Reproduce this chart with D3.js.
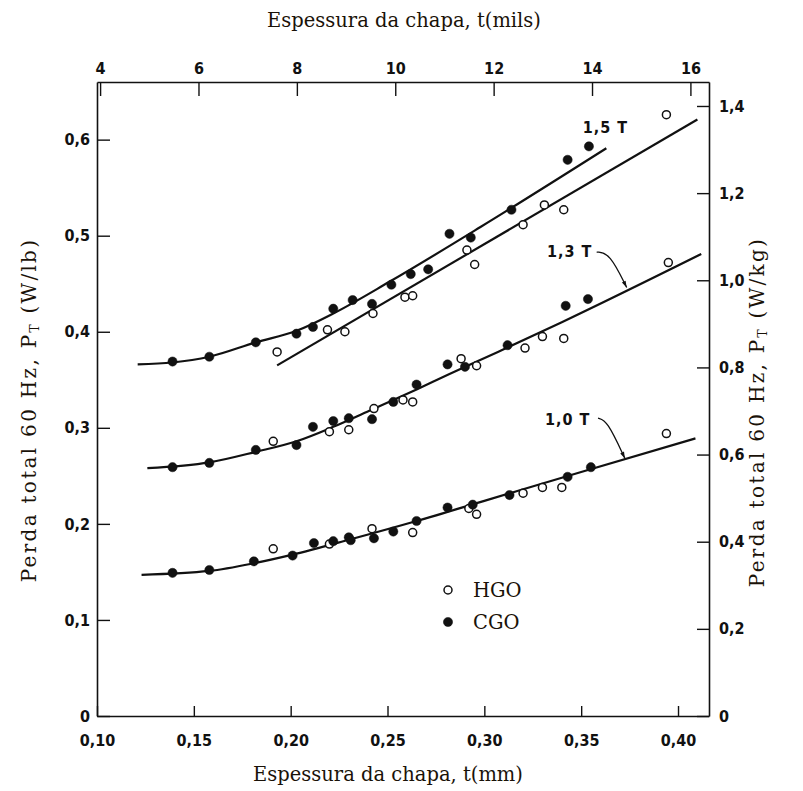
<!DOCTYPE html>
<html>
<head>
<meta charset="utf-8">
<script src="https://cdn.jsdelivr.net/npm/d3@7"></script>
<style>
  body { margin: 0; background: #fff; }
  .tick text { font-family: "Liberation Sans Narrow", "DejaVu Sans Condensed", sans-serif; font-weight: bold; font-size: 16px; fill: #111; }
  .title { font-family: "DejaVu Serif", serif; font-size: 19.5px; fill: #1a1208; }
  .vtitle { font-family: "DejaVu Serif", serif; font-size: 20px; letter-spacing: 2.3px; fill: #1a1208; }
</style>
</head>
<body>
<svg id="chart" width="803" height="791"></svg>
<script>
// --- data (t in mm, P in W/lb) ---
const xTicksMm = [0.10, 0.15, 0.20, 0.25, 0.30, 0.35, 0.40];
const xTicksMils = [4, 6, 8, 10, 12, 14, 16];
const yTicksLb = [0, 0.1, 0.2, 0.3, 0.4, 0.5, 0.6];
const yTicksKg = [0, 0.2, 0.4, 0.6, 0.8, 1.0, 1.2, 1.4];

const cgo15 = [[0.139,0.369],[0.158,0.374],[0.182,0.389],[0.203,0.398],[0.2115,0.405],[0.222,0.424],[0.232,0.433],[0.242,0.429],[0.252,0.449],[0.262,0.460],[0.271,0.465],[0.282,0.502],[0.293,0.498],[0.314,0.527],[0.343,0.579],[0.354,0.593]];
const hgo15 = [[0.193,0.379],[0.219,0.402],[0.228,0.400],[0.2425,0.419],[0.259,0.436],[0.263,0.4375],[0.291,0.485],[0.295,0.470],[0.320,0.5115],[0.331,0.532],[0.341,0.527],[0.394,0.626]];
const cgo13 = [[0.139,0.259],[0.158,0.2635],[0.182,0.277],[0.203,0.282],[0.2115,0.301],[0.222,0.307],[0.230,0.310],[0.242,0.309],[0.253,0.327],[0.265,0.345],[0.281,0.366],[0.290,0.3635],[0.312,0.386],[0.342,0.427],[0.3535,0.434]];
const hgo13 = [[0.191,0.286],[0.220,0.296],[0.230,0.298],[0.243,0.320],[0.258,0.329],[0.263,0.327],[0.288,0.372],[0.296,0.3646],[0.321,0.383],[0.330,0.395],[0.341,0.393],[0.395,0.472]];
const cgo10 = [[0.139,0.149],[0.158,0.152],[0.181,0.161],[0.201,0.167],[0.212,0.180],[0.222,0.182],[0.230,0.186],[0.231,0.183],[0.243,0.185],[0.253,0.192],[0.265,0.203],[0.281,0.217],[0.294,0.220],[0.313,0.230],[0.343,0.249],[0.355,0.259]];
const hgo10 = [[0.191,0.174],[0.220,0.179],[0.242,0.195],[0.263,0.191],[0.292,0.216],[0.296,0.210],[0.320,0.232],[0.330,0.238],[0.340,0.238],[0.394,0.294]];

// fitted curves
const fit15c = [[0.121,0.366],[0.139,0.368],[0.158,0.374],[0.182,0.389],[0.203,0.401],[0.222,0.419],[0.251,0.452],[0.298,0.509],[0.363,0.591]];
const fit15h = [[0.193,0.365],[0.410,0.621]];
const fit13 = [[0.126,0.258],[0.158,0.264],[0.182,0.275],[0.203,0.286],[0.222,0.301],[0.242,0.319],[0.265,0.340],[0.282,0.356],[0.307,0.379],[0.340,0.410],[0.412,0.481]];
const fit10 = [[0.123,0.147],[0.158,0.151],[0.181,0.159],[0.201,0.168],[0.231,0.184],[0.265,0.203],[0.300,0.224],[0.350,0.254],[0.409,0.289]];

// curve labels with leaders
const curveLabels = [
  { text: "1,5 T", at: [0.3625, 0.607], leader: null },
  { text: "1,3 T", at: [0.344, 0.478], leader: [[0.358,0.483],[0.3647,0.482],[0.3735,0.446]] },
  { text: "1,0 T", at: [0.343, 0.303], leader: [[0.3587,0.310],[0.3633,0.308],[0.3726,0.268]] }
];
const legendItems = [{ name: "HGO", open: true }, { name: "CGO", open: false }];

const svg = d3.select("#chart");
const L = 97, R = 709, T = 82, B = 716;
const x = d3.scaleLinear().domain([0.10, 0.416]).range([L, R]);
const xMils = d3.scaleLinear().domain([0.10 / 0.0254, 0.416 / 0.0254]).range([L, R]);
const y = d3.scaleLinear().domain([0, 0.66]).range([B, T]);
const yKg = d3.scaleLinear().domain([0, 0.66 * 2.2046]).range([B, T]);

const comma = f => d => d === 0 ? "0" : d3.format(f)(d).replace(".", ",");

function styleAxis(g) {
  g.select(".domain").attr("stroke", "#111").attr("stroke-width", 1.6);
  g.selectAll(".tick line").attr("stroke", "#111").attr("stroke-width", 1.4);
}

svg.append("g").attr("transform", `translate(0,${B})`)
  .call(d3.axisBottom(x).tickValues(xTicksMm).tickSize(-10).tickSizeOuter(0).tickPadding(19).tickFormat(comma(".2f")))
  .call(styleAxis);
svg.append("g").attr("transform", `translate(0,${T})`)
  .call(d3.axisTop(xMils).tickValues(xTicksMils).tickSize(-14).tickSizeOuter(0).tickPadding(8).tickFormat(d3.format("d")))
  .call(styleAxis);
svg.append("g").attr("transform", `translate(${L},0)`)
  .call(d3.axisLeft(y).tickValues(yTicksLb).tickSize(-13).tickSizeOuter(0).tickPadding(7).tickFormat(comma(".1f")))
  .call(styleAxis);
svg.append("g").attr("transform", `translate(${R},0)`)
  .call(d3.axisRight(yKg).tickValues(yTicksKg).tickSize(-12).tickSizeOuter(0).tickPadding(10).tickFormat(comma(".1f")))
  .call(styleAxis);

// titles
svg.append("text").attr("class", "title").attr("x", 404).attr("y", 27).attr("text-anchor", "middle")
  .text("Espessura da chapa, t(mils)");
svg.append("text").attr("class", "title").attr("x", 388).attr("y", 781).attr("text-anchor", "middle")
  .text("Espessura da chapa, t(mm)");
const leftT = svg.append("text").attr("class", "vtitle").attr("text-anchor", "middle")
  .attr("transform", "translate(36,410) rotate(-90)");
leftT.append("tspan").text("Perda total 60 Hz, P");
leftT.append("tspan").attr("font-size", 12).attr("dy", 3).text("T");
leftT.append("tspan").attr("dy", -3).text(" (W/lb)");
const rightT = svg.append("text").attr("class", "vtitle").attr("text-anchor", "middle")
  .attr("transform", "translate(764,412) rotate(-90)");
rightT.append("tspan").text("Perda total 60 Hz, P");
rightT.append("tspan").attr("font-size", 12).attr("dy", 3).text("T");
rightT.append("tspan").attr("dy", -3).text(" (W/kg)");

// fitted lines
const line = d3.line().x(d => x(d[0])).y(d => y(d[1])).curve(d3.curveMonotoneX);
[fit15c, fit15h, fit13, fit10].forEach(c => {
  svg.append("path").attr("d", line(c)).attr("fill", "none").attr("stroke", "#111").attr("stroke-width", 2.2);
});

// points
function dots(data, open) {
  svg.append("g").selectAll("circle").data(data).join("circle")
    .attr("cx", d => x(d[0])).attr("cy", d => y(d[1])).attr("r", open ? 4 : 4.6)
    .attr("fill", open ? "#fff" : "#111").attr("stroke", "#111").attr("stroke-width", open ? 1.5 : 0.5);
}
dots(hgo15, true); dots(cgo15, false);
dots(hgo13, true); dots(cgo13, false);
dots(hgo10, true); dots(cgo10, false);

// curve labels
const leader = d3.line().x(d => x(d[0])).y(d => y(d[1])).curve(d3.curveBasis);
curveLabels.forEach(c => {
  svg.append("text").attr("x", x(c.at[0])).attr("y", y(c.at[1])).attr("text-anchor", "middle")
    .attr("font-family", "Liberation Sans Narrow, DejaVu Sans Condensed, sans-serif").attr("font-weight", "bold")
    .attr("font-size", 16).attr("letter-spacing", 1).attr("fill", "#111").text(c.text);
  if (c.leader) {
    svg.append("path").attr("d", leader(c.leader)).attr("fill", "none").attr("stroke", "#111").attr("stroke-width", 1.3);
    const p = c.leader[c.leader.length - 1], q = c.leader[c.leader.length - 2];
    const tx = x(p[0]), ty = y(p[1]);
    const ang = Math.atan2(ty - y(q[1]), tx - x(q[0]));
    const s = 7;
    svg.append("path")
      .attr("d", `M${tx},${ty} L${tx - s * Math.cos(ang - 0.3)},${ty - s * Math.sin(ang - 0.3)} L${tx - s * Math.cos(ang + 0.3)},${ty - s * Math.sin(ang + 0.3)} Z`)
      .attr("fill", "#111");
  }
});

// legend
const lg = svg.append("g").attr("transform", "translate(448,590)");
legendItems.forEach((d, i) => {
  lg.append("circle").attr("cx", 0).attr("cy", i * 32).attr("r", d.open ? 4 : 4.6)
    .attr("fill", d.open ? "#fff" : "#111").attr("stroke", "#111").attr("stroke-width", d.open ? 1.5 : 0.5);
  lg.append("text").attr("class", "title").attr("x", 25).attr("y", i * 32 + 7).attr("font-size", 20).text(d.name);
});
</script>
</body>
</html>
